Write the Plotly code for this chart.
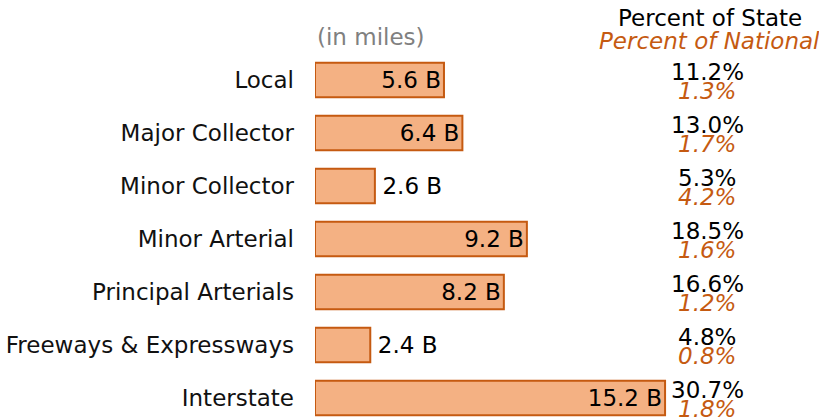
import plotly.graph_objects as go

categories = ["Local", "Major Collector", "Minor Collector", "Minor Arterial",
              "Principal Arterials", "Freeways & Expressways", "Interstate"]
miles_billions = [5.6, 6.4, 2.6, 9.2, 8.2, 2.4, 15.2]
pct_state = [11.2, 13.0, 5.3, 18.5, 16.6, 4.8, 30.7]
pct_national = [1.3, 1.7, 4.2, 1.6, 1.2, 0.8, 1.8]

FONT = "DejaVu Sans"
FS = 23
ORANGE = "#C55A11"

fig = go.Figure(go.Bar(
    x=miles_billions,
    y=categories,
    orientation="h",
    width=0.65,
    marker=dict(color="#F4B183", line=dict(color=ORANGE, width=2)),
    text=[f"\u2009{v:.1f} B" for v in miles_billions],
    textposition="auto",
    insidetextanchor="end",
    insidetextfont=dict(family=FONT, size=FS, color="black"),
    outsidetextfont=dict(family=FONT, size=FS, color="black"),
    cliponaxis=False,
    hoverinfo="skip",
))

annotations = []
for cat, s, n in zip(categories, pct_state, pct_national):
    annotations.append(dict(x=0.778, xref="paper", y=cat, yref="y", text=f"{s:.1f}%",
                            showarrow=False, xanchor="center", yanchor="middle", yshift=8,
                            font=dict(family=FONT, size=FS, color="black")))
    annotations.append(dict(x=0.778, xref="paper", y=cat, yref="y", text=f"<i>{n:.1f}%</i>",
                            showarrow=False, xanchor="center", yanchor="middle", yshift=-11,
                            font=dict(family=FONT, size=FS, color=ORANGE)))

annotations += [
    dict(x=0, xref="paper", y=0.911, yref="paper", text="(in miles)", showarrow=False,
         xanchor="left", yanchor="middle", font=dict(family=FONT, size=FS, color="#808080")),
    dict(x=0.783, xref="paper", y=0.957, yref="paper", text="Percent of State", showarrow=False,
         xanchor="center", yanchor="middle", font=dict(family=FONT, size=FS, color="black")),
    dict(x=0.783, xref="paper", y=0.902, yref="paper", text="<i>Percent of National</i>",
         showarrow=False, xanchor="center", yanchor="middle",
         font=dict(family=FONT, size=FS, color=ORANGE)),
]

fig.update_layout(
    width=819, height=418,
    margin=dict(l=315, r=0, t=0, b=0),
    paper_bgcolor="white", plot_bgcolor="white",
    showlegend=False,
    annotations=annotations,
    xaxis=dict(range=[0, 504 / 23.03], visible=False, fixedrange=True),
    yaxis=dict(range=[6.377, -1.509], showgrid=False, zeroline=False, showline=False,
               ticks="", ticklabelstandoff=20,
               tickfont=dict(family=FONT, size=FS, color="#111111")),
)

fig.write_html("out.html", post_script="document.body.style.margin='0';",
               config={"displayModeBar": False})
